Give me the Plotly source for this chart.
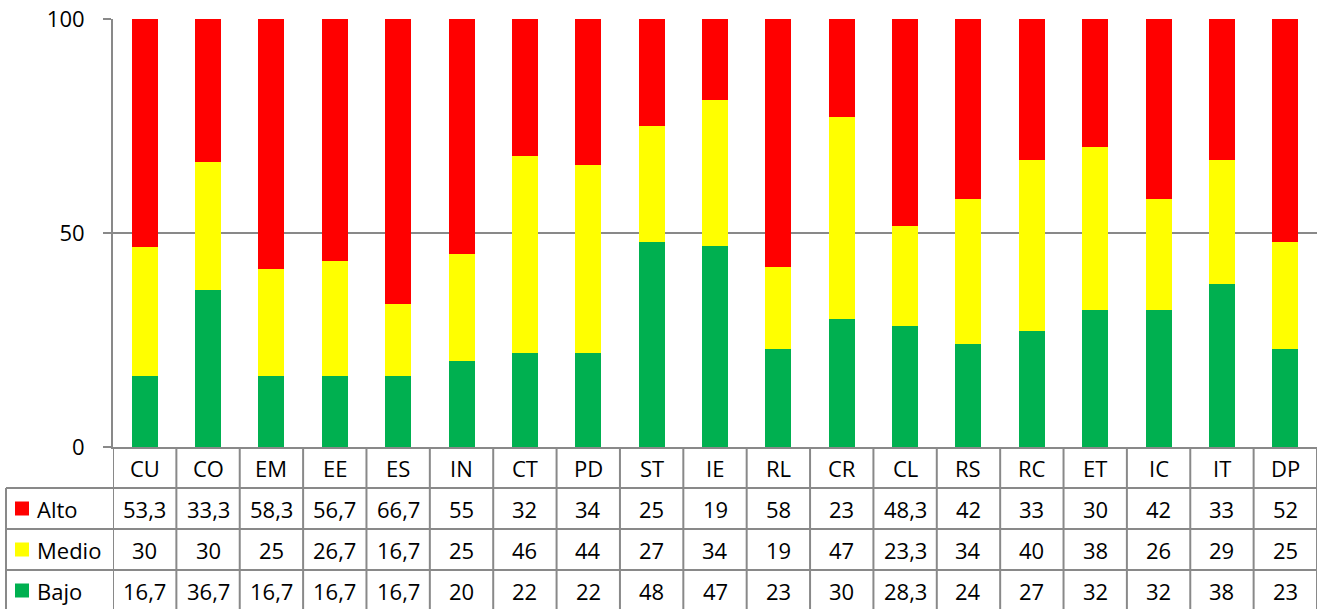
import plotly.graph_objects as go

categories = ["CU", "CO", "EM", "EE", "ES", "IN", "CT", "PD", "ST", "IE",
              "RL", "CR", "CL", "RS", "RC", "ET", "IC", "IT", "DP"]
alto = [53.3, 33.3, 58.3, 56.7, 66.7, 55, 32, 34, 25, 19, 58, 23, 48.3, 42, 33, 30, 42, 33, 52]
medio = [30, 30, 25, 26.7, 16.7, 25, 46, 44, 27, 34, 19, 47, 23.3, 34, 40, 38, 26, 29, 25]
bajo = [16.7, 36.7, 16.7, 16.7, 16.7, 20, 22, 22, 48, 47, 23, 30, 28.3, 24, 27, 32, 32, 38, 23]
series_names = ["Alto", "Medio", "Bajo"]
y_ticks = [0, 50, 100]

colors = {"Alto": "#FF0000", "Medio": "#FFFF00", "Bajo": "#00B050"}
values = {"Alto": alto, "Medio": medio, "Bajo": bajo}

W, H = 1325, 609
L, R, T, B = 113, 8, 19, 162
PW, PH = W - L - R, H - T - B
GRID = "#898989"
FONT = "Open Sans"
FS = 22


def py(Y):
    return (H - B - Y) / PH


def px(X):
    return (X - L) / PW


def fmt(v):
    return f"{v:g}".replace(".", ",")


fig = go.Figure()
for name in ["Bajo", "Medio", "Alto"]:
    fig.add_trace(go.Bar(x=categories, y=values[name], name=name,
                         marker=dict(color=colors[name], line=dict(width=0)),
                         showlegend=False, hoverinfo="skip"))

shapes = []
annotations = []
n = len(categories)
# row boundaries (pixels)
row_tops = [447, 488, 529, 570]
row_bottom = 612

# vertical lines in table
for i in range(n + 1):
    shapes.append(dict(type="line", xref="x", yref="paper", x0=i - 0.5, x1=i - 0.5,
                       y0=py(447), y1=py(row_bottom), line=dict(color=GRID, width=2), layer="above"))
# left legend column border
shapes.append(dict(type="line", xref="paper", yref="paper", x0=px(6), x1=px(6),
                   y0=py(488), y1=py(row_bottom), line=dict(color=GRID, width=2)))
# horizontal lines
for Y in row_tops[1:]:
    shapes.append(dict(type="line", xref="paper", yref="paper", x0=px(6), x1=1,
                       y0=py(Y), y1=py(Y), line=dict(color=GRID, width=2)))

# header
for c in categories:
    annotations.append(dict(x=c, y=py((447 + 488) / 2), xref="x", yref="paper",
                            text=c, showarrow=False, font=dict(family=FONT, size=FS, color="black"),
                            xanchor="center", yanchor="middle"))
# rows
for r, name in enumerate(series_names):
    top, bot = row_tops[r + 1], (row_tops[r + 2] if r + 2 < len(row_tops) else 611)
    yc = py((top + bot) / 2)
    for c, v in zip(categories, values[name]):
        annotations.append(dict(x=c, y=yc, xref="x", yref="paper", text=fmt(v), showarrow=False,
                                font=dict(family=FONT, size=FS, color="black"),
                                xanchor="center", yanchor="middle"))
    annotations.append(dict(x=px(35), y=yc, xref="paper", yref="paper", text=name, showarrow=False,
                            font=dict(family=FONT, size=FS, color="black"),
                            xanchor="left", yanchor="middle"))
    ymid = (top + bot) / 2
    shapes.append(dict(type="rect", xref="paper", yref="paper", x0=px(15), x1=px(29),
                       y0=py(ymid - 7), y1=py(ymid + 7), fillcolor=colors[name],
                       line=dict(width=0)))

fig.update_layout(
    width=W, height=H,
    margin=dict(l=L, r=R, t=T, b=B, pad=0, autoexpand=False),
    paper_bgcolor="white", plot_bgcolor="white",
    barmode="stack", bargap=0.59,
    shapes=shapes, annotations=annotations,
    xaxis=dict(range=[-0.5, n - 0.5], showticklabels=False, showgrid=False, automargin=False,
               showline=True, linecolor=GRID, linewidth=2, ticks="", zeroline=False),
    yaxis=dict(range=[0, 100], tickvals=y_ticks, showgrid=True, gridcolor=GRID, gridwidth=2,
               automargin=False,
               showline=True, linecolor=GRID, linewidth=2, ticks="outside", ticklen=8,
               tickcolor=GRID, tickwidth=2, zeroline=False, ticklabelstandoff=14,
               tickfont=dict(family=FONT, size=FS, color="black")),
)

fig.write_html("out.html", config={"displayModeBar": False},
               post_script="document.body.style.margin='0';document.body.style.overflow='hidden';")
